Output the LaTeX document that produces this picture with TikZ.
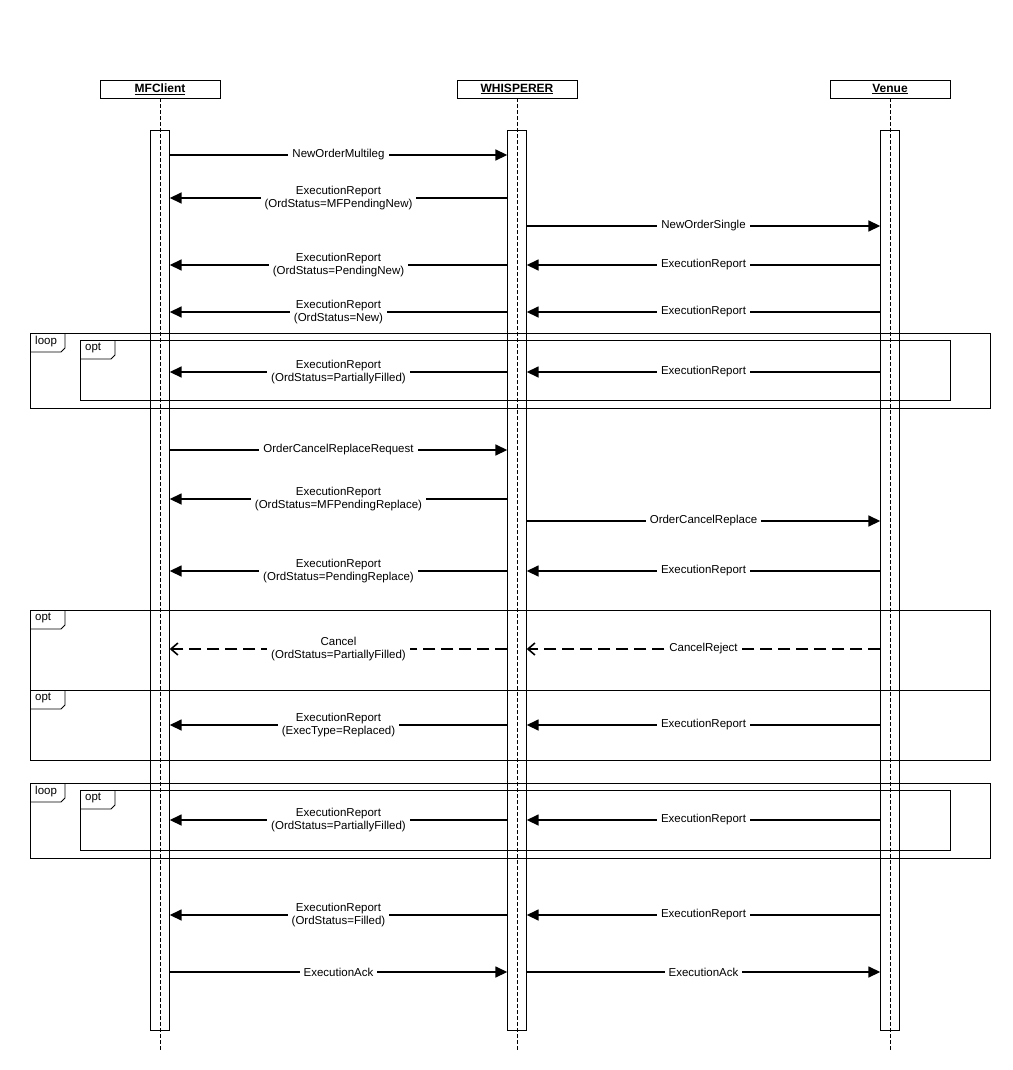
\documentclass[tikz,border=0pt]{standalone}
\usepackage{fontspec}
\setmainfont{Liberation Sans}
\usetikzlibrary{arrows.meta}

\tikzset{
  head/.style={draw, minimum width=120pt, minimum height=18pt, inner sep=0pt, font=\fontsize{12}{14}\selectfont\bfseries},
  bar/.style={draw, minimum width=19pt, minimum height=900pt, inner sep=0pt},
  life/.style={line width=0.6pt, dash pattern=on 4pt off 2pt},
  msg/.style={line width=1.6pt, -{Triangle[length=12pt,width=11pt]}},
  reply/.style={line width=1.6pt, dash pattern=on 12pt off 6pt, -{Straight Barb[length=7pt,width=12pt]}},
  lbl/.style={fill=white, inner xsep=4pt, inner ysep=1pt, align=center, font=\fontsize{11.5}{13.5}\selectfont},
  frame/.style={draw, line width=0.8pt},
  tabtext/.style={anchor=north west, inner sep=0pt, font=\fontsize{11.5}{13}\selectfont},
}

\begin{document}
\begin{tikzpicture}[x=1pt, y=-1pt]
\useasboundingbox (0,0) rectangle (1012,1070);

% Participants
\node[head] (mfc) at (160,89) {\underline{MFClient}};
\node[head] (whi) at (517,89) {\underline{WHISPERER}};
\node[head] (ven) at (890,89) {\underline{Venue}};

% Lifelines
\coordinate (mfcend) at (160,1050);
\coordinate (whiend) at (517,1050);
\coordinate (venend) at (890,1050);
\draw[life] (mfc.south) -- (mfcend);
\draw[life] (whi.south) -- (whiend);
\draw[life] (ven.south) -- (venend);

% Activation bars
\node[bar] (mfcbar) at (160,580) {};
\node[bar] (whibar) at (517,580) {};
\node[bar] (venbar) at (890,580) {};

% Frames
\foreach \l/\t/\r/\b/\name in {30/333/990/408/loop, 80/340/950/400/opt,
                                30/610/990/690/opt, 30/690/990/760/opt,
                                30/783/990/858/loop, 80/790/950/850/opt} {
  \draw[frame] (\l,\t) rectangle (\r,\b);
  \draw[frame] (\l,\t+19) -- (\l+31,\t+19) -- (\l+35,\t+15) -- (\l+35,\t);
  \node[tabtext] at (\l+5,\t+3) {\name};
}

% Requests
\draw[msg] (mfcbar.east |- 0,155) -- node[lbl] {NewOrderMultileg} (whibar.west |- 0,155);
\draw[msg] (whibar.east |- 0,226) -- node[lbl] {NewOrderSingle} (venbar.west |- 0,226);
\draw[msg] (mfcbar.east |- 0,450) -- node[lbl] {OrderCancelReplaceRequest} (whibar.west |- 0,450);
\draw[msg] (whibar.east |- 0,521) -- node[lbl] {OrderCancelReplace} (venbar.west |- 0,521);
\draw[msg] (mfcbar.east |- 0,972) -- node[lbl] {ExecutionAck} (whibar.west |- 0,972);
\draw[msg] (whibar.east |- 0,972) -- node[lbl] {ExecutionAck} (venbar.west |- 0,972);

% Reports to the client
\foreach \y/\st in {198/MFPendingNew, 265/PendingNew, 312/New, 372/PartiallyFilled,
                    499/MFPendingReplace, 571/PendingReplace, 820/PartiallyFilled, 915/Filled}
  \draw[msg] (whibar.west |- 0,\y) -- node[lbl] {ExecutionReport\\(OrdStatus=\st)} (mfcbar.east |- 0,\y);
\draw[msg] (whibar.west |- 0,725) -- node[lbl] {ExecutionReport\\(ExecType=Replaced)} (mfcbar.east |- 0,725);

% Reports from the venue
\foreach \y in {265,312,372,571,725,820,915}
  \draw[msg] (venbar.west |- 0,\y) -- node[lbl] {ExecutionReport} (whibar.east |- 0,\y);

% Cancel reject
\draw[reply] (venbar.west |- 0,649) -- node[lbl] {CancelReject} (whibar.east |- 0,649);
\draw[reply] (whibar.west |- 0,649) -- node[lbl] {Cancel\\(OrdStatus=PartiallyFilled)} (mfcbar.east |- 0,649);

\end{tikzpicture}
\end{document}
